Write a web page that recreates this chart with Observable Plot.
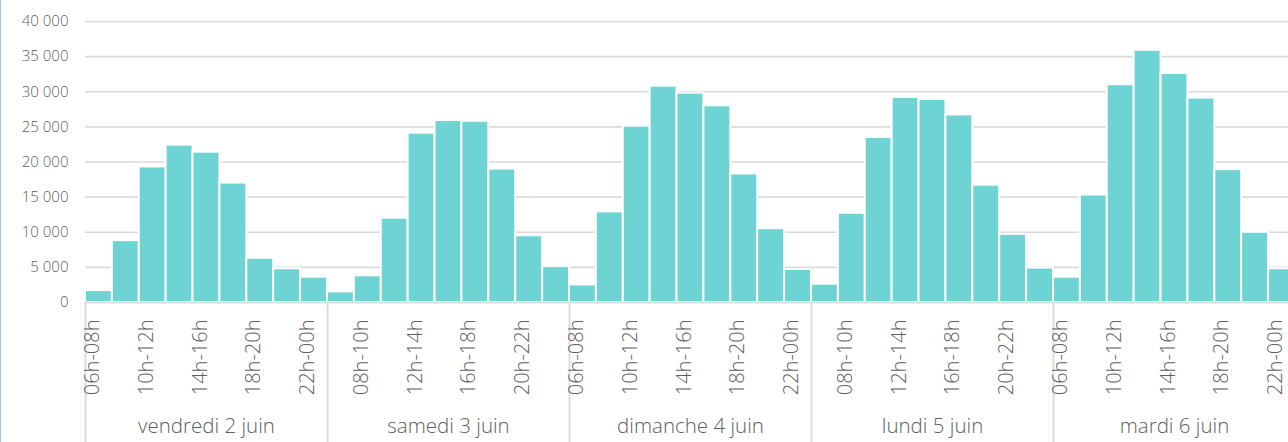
<!DOCTYPE html>
<html><head><meta charset="utf-8">
<script src="https://cdn.jsdelivr.net/npm/d3@7"></script>
<script src="https://cdn.jsdelivr.net/npm/@observablehq/plot@0.6"></script>
<style>
html,body{margin:0;padding:0;background:#fff;overflow:hidden;width:1288px;height:442px;}
#chart{position:absolute;left:0;top:0;}
#chart svg{max-width:none !important;}
#edge{position:absolute;left:0;top:0;width:1px;height:442px;background:#a7c6df;}
</style></head><body>
<div id="chart"></div><div id="edge"></div>
<script>
const days = ["vendredi 2 juin", "samedi 3 juin", "dimanche 4 juin", "lundi 5 juin", "mardi 6 juin"];
const slots = ["06h-08h", "08h-10h", "10h-12h", "12h-14h", "14h-16h", "16h-18h", "18h-20h", "20h-22h", "22h-00h"];
const vendredi = [1700, 8800, 19300, 22400, 21400, 17000, 6300, 4800, 3600];
const samedi   = [1500, 3800, 12000, 24100, 25900, 25800, 19000, 9500, 5100];
const dimanche = [2500, 12900, 25100, 30800, 29800, 28000, 18300, 10500, 4700];
const lundi    = [2600, 12700, 23500, 29200, 28900, 26700, 16700, 9700, 4900];
const mardi    = [3600, 15300, 31000, 35900, 32600, 29100, 18900, 10000, 4800];
const yTicks = [0, 5000, 10000, 15000, 20000, 25000, 30000, 35000, 40000];

const values = [vendredi, samedi, dimanche, lundi, mardi];
const data = [];
days.forEach((day, di) => slots.forEach((slot, si) =>
  data.push({i: di * slots.length + si, day, slot, value: values[di][si]})));
const dayStarts = days.map((d, di) => di * slots.length);
const dayMids = days.map((day, di) => ({day, x: di * slots.length + slots.length / 2}));
const fmt = v => d3.format(",")(v).replace(/,/g, " ");

const W = 1300, H = 442, mT = 21, mB = 140, mL = 85, mR = 5;
const textColor = "#605e5c";

const chart = Plot.plot({
  width: W, height: H,
  marginLeft: mL, marginRight: mR, marginTop: mT, marginBottom: mB,
  style: {fontFamily: "'Open Sans', sans-serif", fontWeight: 300, background: "transparent", maxWidth: "none", overflow: "visible"},
  x: {type: "linear", domain: [0, data.length], axis: null},
  y: {domain: [0, 40000], axis: null},
  marks: [
    Plot.ruleY(yTicks.filter(t => t > 0), {stroke: "#dadada", strokeWidth: 1.6}),
    Plot.rectY(data, {x1: "i", x2: d => d.i + 1, y: "value", fill: "#6dd3d3", stroke: "white", strokeWidth: 2}),
    Plot.ruleY([0], {stroke: "#dcdcdc", strokeWidth: 2}),
    Plot.ruleX(dayStarts, {stroke: "#dcdcdc", strokeWidth: 2, insetTop: H - mT - mB, insetBottom: -mB}),
    Plot.text(yTicks, {y: d => d, text: fmt, frameAnchor: "left", textAnchor: "end", dx: -17, fontSize: 15, fontWeight: 300, fill: textColor}),
    Plot.text(data.filter(d => d.i % 2 === 0), {x: d => d.i + 0.5, text: "slot", frameAnchor: "bottom", dy: 17, rotate: -90, textAnchor: "end", fontSize: 20, fontWeight: 300, fill: textColor}),
    Plot.text(dayMids, {x: "x", text: "day", frameAnchor: "bottom", dy: 130, fontSize: 20.5, fontWeight: 300, fill: textColor})
  ]
});
document.getElementById("chart").appendChild(chart);
</script>
</body></html>
